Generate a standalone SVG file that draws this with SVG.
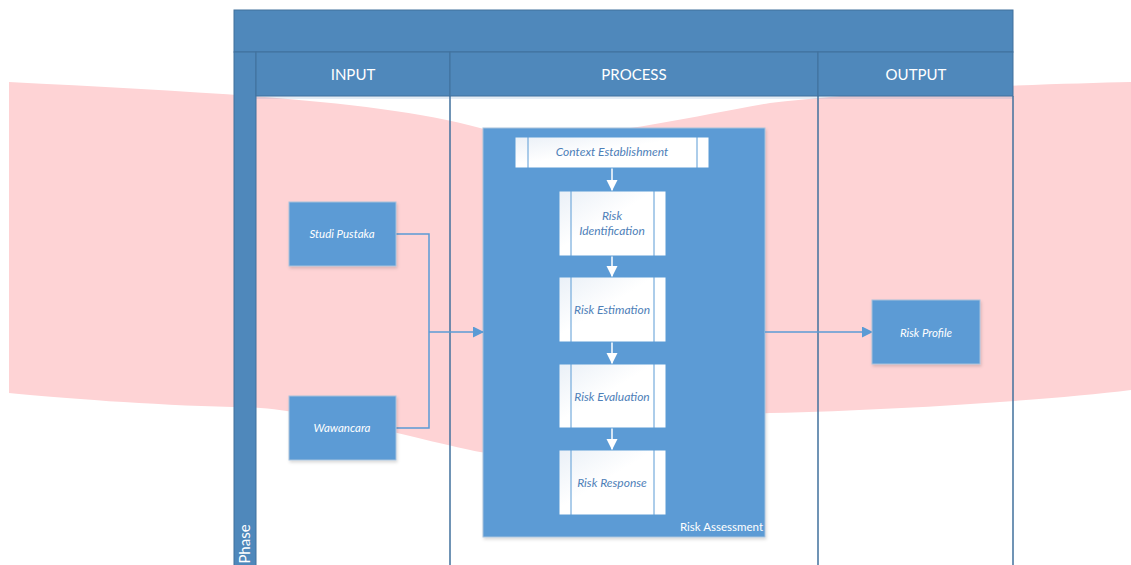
<svg xmlns="http://www.w3.org/2000/svg" width="1131" height="565" viewBox="0 0 1131 565">
<style>
.hdr{fill:#4F88BB;stroke:#41719C;stroke-width:1}
.lane{fill:none;stroke:#41719C;stroke-width:1.5}
.htxt{font-family:Lato,"Liberation Sans",sans-serif;font-size:15px;fill:#ffffff;text-anchor:middle}
.task{fill:#5B9BD5;stroke:#A8C2DC;stroke-width:1}
.ttxt{font-family:Lato,"Liberation Sans",sans-serif;font-size:11.5px;font-style:italic;fill:#ffffff;text-anchor:middle}
.sub{fill:url(#sg);stroke:#5B9BD5;stroke-width:1}
.bar{stroke:#5B9BD5;stroke-width:1}
.stxt{font-family:Lato,"Liberation Sans",sans-serif;font-size:12px;font-style:italic;fill:#4E80B8;text-anchor:middle}
.conn{fill:none;stroke:#5B9BD5;stroke-width:1.5}
.wconn{fill:none;stroke:#ffffff;stroke-width:1.5}
</style>
<defs>
<linearGradient id="sg" x1="0" y1="0" x2="1" y2="1">
<stop offset="0" stop-color="#EAF0F7"/>
<stop offset="0.45" stop-color="#FFFFFF"/>
</linearGradient>
<marker id="ab" markerWidth="11" markerHeight="11" refX="10" refY="5.5" orient="auto" markerUnits="userSpaceOnUse">
<path d="M0,0 L11,5.5 L0,11 Z" fill="#5B9BD5"/>
</marker>
<marker id="aw" markerWidth="11" markerHeight="12" refX="11" refY="5.5" orient="auto" markerUnits="userSpaceOnUse">
<path d="M0,0 L11,5.5 L0,11 Z" fill="#ffffff"/>
</marker>
<filter id="sh" x="-10%" y="-10%" width="130%" height="130%">
<feDropShadow dx="1" dy="2" stdDeviation="1.5" flood-color="#000" flood-opacity="0.15"/>
</filter>
</defs>

<!-- pink banner -->
<path d="M9,82 C200,92 380,100 480,128 C560,150 680,118 770,103 C900,88 1050,84 1131,82 L1131,390 C1050,400 900,410 770,413 C680,416 560,462 480,452 C420,440 300,405 233,407 C150,405 60,398 9,393 Z" fill="#FED3D5"/>

<g id="pool">
<rect x="234" y="10" width="779" height="42" class="hdr"/>
<rect x="234" y="52" width="22" height="520" class="hdr"/>
<text x="250" y="544" transform="rotate(-90 250 544)" class="htxt" font-size="14">Phase</text>
</g>
<g id="lane-input">
<rect x="256" y="52" width="194" height="44" class="hdr"/>
<text x="353" y="80" class="htxt">INPUT</text>
<line x1="450" y1="96" x2="450" y2="570" class="lane"/>
</g>
<g id="lane-process">
<rect x="450" y="52" width="368" height="44" class="hdr"/>
<text x="634" y="80" class="htxt">PROCESS</text>
<line x1="818" y1="96" x2="818" y2="570" class="lane"/>
</g>
<g id="lane-output">
<rect x="818" y="52" width="195" height="44" class="hdr"/>
<text x="916" y="80" class="htxt">OUTPUT</text>
<line x1="1013" y1="96" x2="1013" y2="570" class="lane"/>
</g>
<rect x="256" y="96" width="757" height="3" fill="#4F88BB" opacity="0.15"/>

<g id="risk-assessment">
<rect x="483" y="128" width="282" height="409" class="task" filter="url(#sh)"/>
<text x="763" y="531" font-family="Lato,'Liberation Sans',sans-serif" font-size="11.5" fill="#ffffff" text-anchor="end">Risk Assessment</text>
</g>

<g id="connectors">
<path d="M396,234 H429 V428 H396" class="conn"/>
<path d="M429,332 H483" class="conn" marker-end="url(#ab)"/>
<path d="M765,332 H872" class="conn" marker-end="url(#ab)"/>
<path d="M612,168 V191" class="wconn" marker-end="url(#aw)"/>
<path d="M612,256 V277" class="wconn" marker-end="url(#aw)"/>
<path d="M612,342 V364" class="wconn" marker-end="url(#aw)"/>
<path d="M612,428 V450" class="wconn" marker-end="url(#aw)"/>
</g>

<g id="context-establishment">
<rect x="515" y="137" width="194" height="31" class="sub"/>
<line x1="528" y1="137" x2="528" y2="168" class="bar"/>
<line x1="697" y1="137" x2="697" y2="168" class="bar"/>
<text x="612" y="156" class="stxt">Context Establishment</text>
</g>
<g id="risk-identification">
<rect x="559" y="191" width="107" height="65" class="sub"/>
<line x1="571" y1="191" x2="571" y2="256" class="bar"/>
<line x1="654" y1="191" x2="654" y2="256" class="bar"/>
<text x="612" y="220" class="stxt">Risk</text>
<text x="612" y="235" class="stxt">Identification</text>
</g>
<g id="risk-estimation">
<rect x="559" y="277" width="107" height="65" class="sub"/>
<line x1="571" y1="277" x2="571" y2="342" class="bar"/>
<line x1="654" y1="277" x2="654" y2="342" class="bar"/>
<text x="612" y="314" class="stxt">Risk Estimation</text>
</g>
<g id="risk-evaluation">
<rect x="559" y="364" width="107" height="64" class="sub"/>
<line x1="571" y1="364" x2="571" y2="428" class="bar"/>
<line x1="654" y1="364" x2="654" y2="428" class="bar"/>
<text x="612" y="401" class="stxt">Risk Evaluation</text>
</g>
<g id="risk-response">
<rect x="559" y="450" width="107" height="65" class="sub"/>
<line x1="571" y1="450" x2="571" y2="515" class="bar"/>
<line x1="654" y1="450" x2="654" y2="515" class="bar"/>
<text x="612" y="487" class="stxt">Risk Response</text>
</g>

<g id="studi-pustaka">
<rect x="289" y="202" width="107" height="64" class="task" filter="url(#sh)"/>
<text x="342" y="238" class="ttxt">Studi Pustaka</text>
</g>
<g id="wawancara">
<rect x="289" y="396" width="107" height="64" class="task" filter="url(#sh)"/>
<text x="342" y="432" class="ttxt">Wawancara</text>
</g>
<g id="risk-profile">
<rect x="872" y="300" width="108" height="64" class="task" filter="url(#sh)"/>
<text x="926" y="337" class="ttxt">Risk Profile</text>
</g>
</svg>
